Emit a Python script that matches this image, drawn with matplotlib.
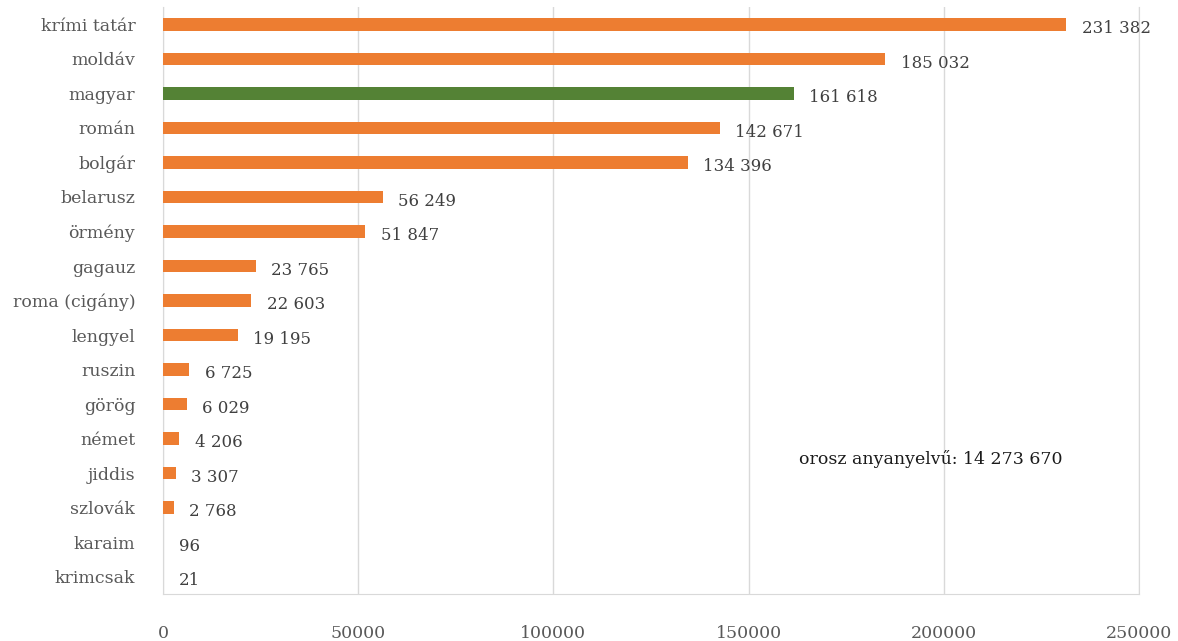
import matplotlib.pyplot as plt

# nemzetiségek anyanyelv szerint
nyelvek = ["krími tatár", "moldáv", "magyar", "román", "bolgár", "belarusz",
           "örmény", "gagauz", "roma (cigány)", "lengyel", "ruszin", "görög",
           "német", "jiddis", "szlovák", "karaim", "krimcsak"]
beszelok = [231382, 185032, 161618, 142671, 134396, 56249, 51847, 23765,
            22603, 19195, 6725, 6029, 4206, 3307, 2768, 96, 21]
kiemelt = "magyar"
orosz = 14273670

narancs = "#ED7D31"
zold = "#548235"

plt.rcParams["font.family"] = ["DejaVu Serif"]

fig = plt.figure(figsize=(11.78, 6.41), dpi=100)
ax = fig.add_axes([0.1384, 0.0733, 0.8285, 0.9157])

szinek = [zold if n == kiemelt else narancs for n in nyelvek]
y = list(range(len(nyelvek)))
ax.barh(y, beszelok, height=0.36, color=szinek, zorder=3)

ax.set_yticks(y)
ax.set_yticklabels(nyelvek, fontsize=12.5, color="#595959")
ax.set_ylim(len(nyelvek) - 0.5, -0.5)
ax.set_xlim(0, 250000)
ax.set_xticks(range(0, 250001, 50000))
ax.set_xticklabels([str(v) for v in range(0, 250001, 50000)],
                   fontsize=12.5, color="#595959")
ax.tick_params(axis="both", length=0)
ax.tick_params(axis="x", pad=22)
ax.tick_params(axis="y", pad=20)

ax.grid(axis="x", color="#d9d9d9", linewidth=1, zorder=0)
ax.spines["top"].set_visible(False)
for s in ["left", "bottom", "right"]:
    ax.spines[s].set_color("#d9d9d9")

for i, v in enumerate(beszelok):
    felirat = f"{v:,}".replace(",", " ")
    ax.annotate(felirat, (v, i), xytext=(11, -3), textcoords="offset points",
                ha="left", va="center", fontsize=12, color="#404040")

ax.text(163000, 12.6, f"orosz anyanyelvű: {orosz:,}".replace(",", " "),
        fontsize=12.5, color="#1a1a1a", va="center", ha="left")

fig.savefig("out.png", dpi=100)
